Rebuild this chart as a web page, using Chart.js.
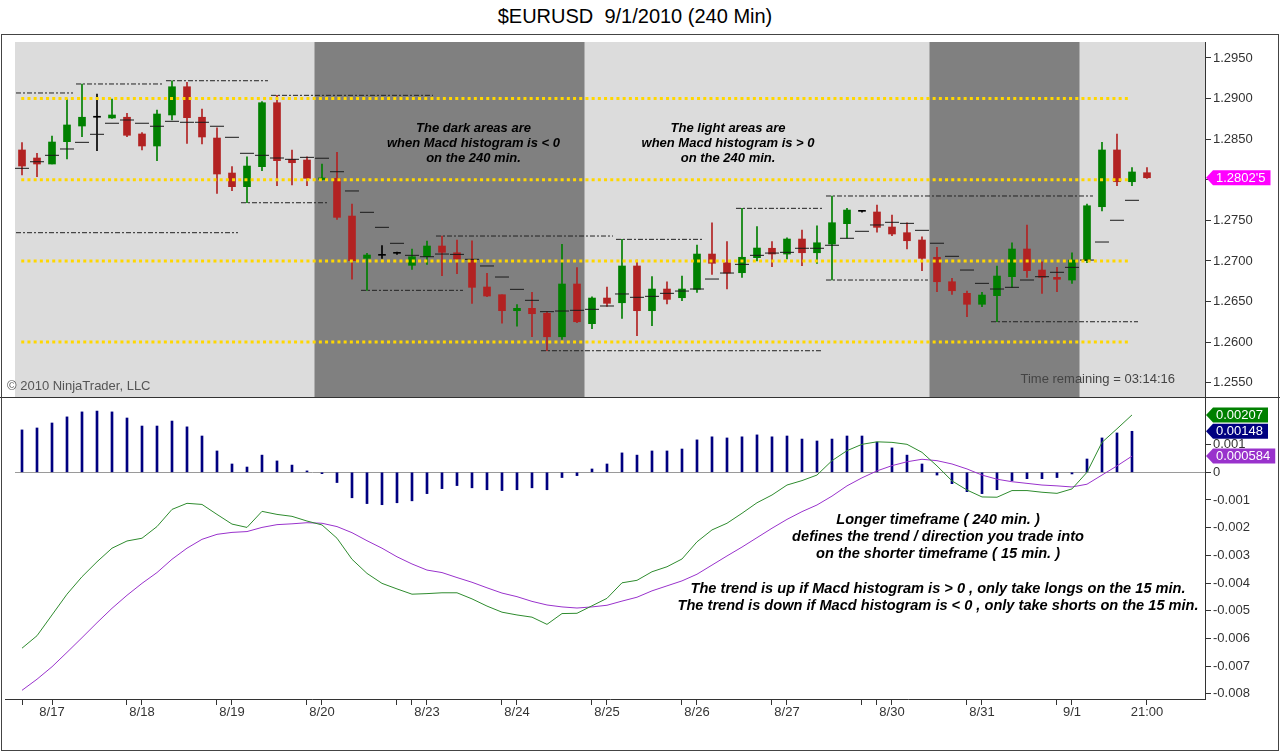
<!DOCTYPE html>
<html>
<head>
<meta charset="utf-8">
<title>$EURUSD 9/1/2010 (240 Min)</title>
<script src="https://cdn.jsdelivr.net/npm/chart.js@4.4.0/dist/chart.umd.min.js"></script>
<style>
  body { margin: 0; background: #fff; font-family: Arial, "Liberation Sans", sans-serif; }
  #page { position: relative; width: 1280px; height: 751px; overflow: hidden; }
  #title { position: absolute; left: 0; top: 5px; width: 1270px; text-align: center;
           font-size: 20px; line-height: 23px; color: #000; white-space: pre; }
  #frame { position: absolute; left: 1px; top: 34px; width: 1278px; height: 717px;
           box-sizing: border-box; border: 1px solid #444; pointer-events: none; z-index: 5; }
  #split { position: absolute; left: 0; top: 397px; width: 1280px; height: 1px; background: #333; z-index: 5; }
  #priceBox { position: absolute; left: 0; top: 35px; width: 1280px; height: 362px; }
  #macdBox { position: absolute; left: 0; top: 397px; width: 1280px; height: 354px; }
</style>
</head>
<body>
<div id="page">
  <div id="title">$EURUSD  9/1/2010 (240 Min)</div>
  <div id="priceBox"><canvas id="priceChart"></canvas></div>
  <div id="macdBox"><canvas id="macdChart"></canvas></div>
  <div id="split"></div>
  <div id="frame"></div>
</div>
<script>
// 240 min candles, 8/17 -> 9/1 (index = bar number)
const opens = [1.28367, 1.28268, 1.28194, 1.28469, 1.28662, 1.2877, 1.28761, 1.2877, 1.28564, 1.28416,
  1.28798, 1.29146, 1.2877, 1.28514, 1.28083, 1.27915, 1.28161, 1.28949, 1.28252, 1.28243,
  1.28003, 1.28018, 1.27553, 1.27032, 1.27069, 1.27094, 1.26946, 1.27052, 1.27184, 1.27101,
  1.2702, 1.26679, 1.26584, 1.26387, 1.26416, 1.26355, 1.26066, 1.26716, 1.26227, 1.26543,
  1.26485, 1.26938, 1.26387, 1.26654, 1.26547, 1.2665, 1.27085, 1.26978, 1.26855, 1.2704,
  1.27156, 1.27085, 1.2727, 1.27101, 1.27208, 1.27459, 1.27611, 1.27603, 1.27418, 1.27348,
  1.27258, 1.27045, 1.26744, 1.26601, 1.26466, 1.26572, 1.26806, 1.27147, 1.26888, 1.26798,
  1.26765, 1.27003, 1.27668, 1.28367, 1.27976, 1.28087];
const highs = [1.28457, 1.28326, 1.28539, 1.28995, 1.2918, 1.29057, 1.28995, 1.28819, 1.2858, 1.28859,
  1.2922, 1.29201, 1.28872, 1.28641, 1.28161, 1.28284, 1.28962, 1.2904, 1.28367, 1.28284,
  1.28194, 1.28338, 1.27701, 1.27094, 1.27188, 1.2711, 1.27147, 1.27245, 1.27307, 1.27258,
  1.27249, 1.26848, 1.26584, 1.26461, 1.26613, 1.26375, 1.27205, 1.26917, 1.26559, 1.26679,
  1.27266, 1.27011, 1.26806, 1.26744, 1.26814, 1.27196, 1.27471, 1.27237, 1.27648, 1.27422,
  1.27237, 1.27286, 1.27381, 1.27434, 1.278, 1.27648, 1.2762, 1.27689, 1.27566, 1.27471,
  1.27298, 1.27168, 1.26786, 1.26629, 1.26613, 1.26938, 1.27224, 1.27443, 1.2699, 1.26921,
  1.27101, 1.27701, 1.28461, 1.28564, 1.28149, 1.28149];
const lows = [1.28059, 1.28038, 1.28194, 1.28256, 1.2853, 1.28358, 1.28757, 1.2853, 1.28367, 1.28235,
  1.28736, 1.28449, 1.28441, 1.27833, 1.27865, 1.27717, 1.28112, 1.27927, 1.27935, 1.27927,
  1.27997, 1.27513, 1.26777, 1.26638, 1.27032, 1.27079, 1.26897, 1.26958, 1.26818, 1.26843,
  1.26478, 1.26559, 1.26232, 1.26198, 1.26066, 1.25894, 1.26034, 1.26239, 1.26165, 1.26441,
  1.26293, 1.26079, 1.26202, 1.2647, 1.2651, 1.26613, 1.26835, 1.26654, 1.26798, 1.26999,
  1.26929, 1.27024, 1.26941, 1.26971, 1.26765, 1.27279, 1.276, 1.27353, 1.27311, 1.27147,
  1.2688, 1.26621, 1.26589, 1.26313, 1.26436, 1.26251, 1.26675, 1.26798, 1.26601, 1.26621,
  1.26724, 1.26978, 1.27615, 1.27927, 1.27927, 1.28018];
const closes = [1.28169, 1.28194, 1.28465, 1.28675, 1.2877, 1.2877, 1.28798, 1.28548, 1.28416, 1.2881,
  1.29146, 1.28765, 1.28527, 1.28071, 1.27915, 1.28169, 1.28949, 1.28235, 1.2821, 1.28018,
  1.28022, 1.27537, 1.27003, 1.27073, 1.27069, 1.27094, 1.27052, 1.27184, 1.27106, 1.27024,
  1.26675, 1.26568, 1.26387, 1.26416, 1.2635, 1.26066, 1.26716, 1.26251, 1.26543, 1.26478,
  1.26938, 1.26387, 1.26654, 1.26527, 1.26654, 1.27085, 1.26971, 1.26851, 1.27045, 1.27159,
  1.27085, 1.2727, 1.27101, 1.27224, 1.27471, 1.27627, 1.27611, 1.27414, 1.27332, 1.27249,
  1.27032, 1.26744, 1.26633, 1.26466, 1.2658, 1.26814, 1.27147, 1.2688, 1.26798, 1.26774,
  1.27011, 1.2768, 1.28367, 1.27976, 1.28096, 1.28025];

// short dash marker drawn on every closed bar
const dashValues = [1.28141, 1.28222, 1.28301, 1.28379, 1.28461, 1.2856, 1.28696, 1.28736, 1.28696, 1.28659,
  1.2872, 1.28708, 1.28708, 1.28659, 1.28523, 1.28326, 1.28301, 1.28268, 1.28252, 1.28276,
  1.28265, 1.28099, 1.27862, 1.27599, 1.27414, 1.27217, 1.27069, 1.27052, 1.27085, 1.27081,
  1.2702, 1.26938, 1.26802, 1.2665, 1.26515, 1.26375, 1.26383, 1.26392, 1.26404, 1.26445,
  1.26593, 1.26552, 1.26564, 1.26601, 1.26629, 1.26654, 1.26777, 1.26851, 1.26958, 1.27069,
  1.27097, 1.27106, 1.27156, 1.27156, 1.27193, 1.27279, 1.27365, 1.27443, 1.27476, 1.27463,
  1.27377, 1.27218, 1.27057, 1.26888, 1.26724, 1.26654, 1.26675, 1.26765, 1.26806, 1.2686,
  1.26921, 1.27011, 1.27233, 1.27501, 1.27747];

// swing high / low lines (bar index from..to)
const levelFrom = [-0.4, 3.6, 9.6, 16.6, 14.6, -0.4, 22.6, 27.6, 34.6, 39.6, 47.6, 53.6, 53.6, 64.6];
const levelTo = [3.4, 9.4, 16.4, 27.4, 20.4, 14.4, 29.4, 39.4, 53.4, 45.4, 53.4, 71.4, 60.4, 74.4];
const levelPrice = [1.29069, 1.2918, 1.2922, 1.2904, 1.27717, 1.27348, 1.26638, 1.27307, 1.25894,
  1.27266, 1.27648, 1.278, 1.26765, 1.26251];

// round number lines
const roundLevels = [1.29, 1.28, 1.27, 1.26];
const roundFrom = -0.05;
const roundTo = 73.9;

// MACD histogram < 0 zones
const darkFrom = [19.5, 60.5];
const darkTo = [37.5, 70.5];

// MACD (not plotted on the open bar)
const macdLine = [-0.00635, -0.0059, -0.00515, -0.0044, -0.00377, -0.00323, -0.00274, -0.00248, -0.00238, -0.00196,
  -0.00134, -0.00112, -0.00116, -0.00152, -0.00187, -0.00199, -0.00141, -0.00152, -0.00159, -0.00176,
  -0.0019, -0.00238, -0.00314, -0.00365, -0.00401, -0.00421, -0.0044, -0.00438, -0.00435, -0.00435,
  -0.00457, -0.00483, -0.00505, -0.00515, -0.00523, -0.00549, -0.0051, -0.00509, -0.00482, -0.00455,
  -0.00399, -0.0039, -0.00359, -0.00341, -0.00313, -0.00251, -0.00208, -0.00184, -0.00148, -0.0011,
  -0.00082, -0.00046, -0.0003, -0.0001, 0.00042, 0.00078, 0.00101, 0.0011, 0.00108, 0.00101,
  0.00072, 0.00023, -0.00031, -0.00064, -0.00089, -0.0009, -0.00066, -0.00066, -0.00072, -0.00076,
  -0.0006, 0, 0.00108, 0.00157, 0.00207];
const signalLine = [-0.00787, -0.00747, -0.00702, -0.0065, -0.00597, -0.00543, -0.00491, -0.00444, -0.00401, -0.00362,
  -0.00314, -0.00274, -0.00242, -0.00224, -0.00217, -0.00214, -0.00199, -0.00189, -0.00186, -0.00182,
  -0.00184, -0.00196, -0.00218, -0.00247, -0.00274, -0.00305, -0.00331, -0.00353, -0.00362, -0.0038,
  -0.00397, -0.00417, -0.00436, -0.00449, -0.00466, -0.00479, -0.00486, -0.0049, -0.00486, -0.0048,
  -0.00465, -0.00451, -0.00428, -0.0041, -0.00392, -0.00368, -0.00335, -0.00302, -0.0027, -0.00236,
  -0.00202, -0.0017, -0.00142, -0.00118, -0.00086, -0.00049, -0.0002, 0.00005, 0.00024, 0.00038,
  0.00047, 0.00042, 0.0003, 0.00012, -0.0001, -0.00025, -0.00034, -0.0004, -0.00046, -0.00049,
  -0.00053, -0.00043, -0.0001, 0.00023, 0.000584];
const histogram = [0.00153, 0.0016, 0.00178, 0.002, 0.00218, 0.00221, 0.00218, 0.00196, 0.00167, 0.00167,
  0.00185, 0.00164, 0.00131, 0.00077, 0.0003, 0.00019, 0.00062, 0.00041, 0.00026, 0.00005,
  -0.00005, -0.00037, -0.00092, -0.00113, -0.00117, -0.0011, -0.00103, -0.00077, -0.00059, -0.00048,
  -0.00056, -0.00063, -0.00066, -0.00063, -0.00056, -0.00063, -0.00019, -0.00012, 0.00012, 0.0003,
  0.0007, 0.00062, 0.00077, 0.00077, 0.00084, 0.00117, 0.00128, 0.00124, 0.00128, 0.00135,
  0.00128, 0.00131, 0.0012, 0.00113, 0.0012, 0.00131, 0.00131, 0.00109, 0.00088, 0.00062,
  0.0003, -0.0001, -0.00041, -0.0007, -0.00077, -0.00063, -0.0003, -0.00023, -0.00023, -0.00019,
  -0.00006, 0.00048, 0.00124, 0.00142, 0.00148];

// axes
const priceTicks = [1.255, 1.26, 1.265, 1.27, 1.275, 1.28, 1.285, 1.29, 1.295];
const macdTicks = [0.001, 0, -0.001, -0.002, -0.003, -0.004, -0.005, -0.006, -0.007, -0.008];
const dayTickIdx = [2, 8, 14, 20, 27, 33, 39, 45, 51, 58, 64, 70, 75];
const dayTickText = ['8/17', '8/18', '8/19', '8/20', '8/23', '8/24', '8/25', '8/26', '8/27', '8/30', '8/31', '9/1', '21:00'];
const minorTickIdx = [0, 7, 13, 19, 25, 26, 32, 38, 44, 50, 56, 57, 63, 69];

// notes
const priceNoteX = [30.1, 47.07];
const priceNoteY = [1.28638, 1.28638];
const priceNoteLines = [
  ['The dark areas are', 'when Macd histogram is < 0', 'on the 240 min.'],
  ['The light areas are', 'when Macd histogram is > 0', 'on the 240 min.']
];
const macdNoteX = [61.07, 61.07];
const macdNoteY = [-0.00172, -0.00421];
const macdNoteLines = [
  ['Longer timeframe ( 240 min. )', 'defines the trend / direction you trade into', 'on the shorter timeframe ( 15 min. )'],
  ['The trend is up if Macd histogram is > 0 , only take longs on the 15 min.',
   'The trend is down if Macd histogram is < 0 , only take shorts on the 15 min.']
];

const X_MIN = -0.4667, X_MAX = 78.867;
const RED = '#B22222', GREEN = '#008000';
const FONT = 'Arial, "Liberation Sans", sans-serif';

Chart.defaults.font.family = FONT;
Chart.defaults.font.size = 13;
Chart.defaults.color = '#333';

function candleColor(i) {
  if (closes[i] > opens[i]) return GREEN;
  if (closes[i] < opens[i]) return RED;
  return '#000';
}

function fitRight(s) {
  s.width = 75;
  s.paddingTop = 0;
  s.paddingBottom = 0;
}

function drawTag(ctx, x0, yc, fill, text) {
  ctx.font = '13px ' + FONT;
  const w = ctx.measureText(text).width + 15;
  const h = 15;
  ctx.beginPath();
  ctx.moveTo(x0, yc);
  ctx.lineTo(x0 + 7, yc - h / 2);
  ctx.lineTo(x0 + w, yc - h / 2);
  ctx.lineTo(x0 + w, yc + h / 2);
  ctx.lineTo(x0 + 7, yc + h / 2);
  ctx.closePath();
  ctx.fillStyle = fill;
  ctx.fill();
  ctx.fillStyle = '#fff';
  ctx.textAlign = 'left';
  ctx.textBaseline = 'middle';
  ctx.fillText(text, x0 + 10, yc + 0.5);
}

function notesPlugin(id, xs, ys, lines, fontSize, lineHeight) {
  return {
    id: id,
    afterDatasetsDraw(chart) {
      const {ctx, scales: {x, y}} = chart;
      ctx.save();
      ctx.font = 'italic bold ' + fontSize + 'px ' + FONT;
      ctx.fillStyle = '#000';
      ctx.textAlign = 'center';
      ctx.textBaseline = 'middle';
      xs.forEach((nx, k) => {
        const px = x.getPixelForValue(nx), py = y.getPixelForValue(ys[k]);
        lines[k].forEach((t, i) => ctx.fillText(t, px, py + i * lineHeight));
      });
      ctx.restore();
    }
  };
}

const shadePlugin = {
  id: 'shade',
  beforeDatasetsDraw(chart) {
    const {ctx, chartArea: a, scales: {x}} = chart;
    ctx.save();
    ctx.fillStyle = '#DCDCDC';
    ctx.fillRect(a.left, a.top, a.right - a.left, a.bottom - a.top);
    ctx.fillStyle = '#808080';
    darkFrom.forEach((f, k) => {
      const x0 = x.getPixelForValue(f), x1 = x.getPixelForValue(darkTo[k]);
      ctx.fillRect(x0, a.top, x1 - x0, a.bottom - a.top);
    });
    ctx.restore();
  },
  afterDatasetsDraw(chart) {
    const {ctx, chartArea: a} = chart;
    ctx.save();
    ctx.font = '13px ' + FONT;
    ctx.textBaseline = 'middle';
    ctx.fillStyle = '#555';
    ctx.textAlign = 'left';
    ctx.fillText('\u00A9 2010 NinjaTrader, LLC', 7, a.bottom - 11);
    ctx.fillStyle = '#444';
    ctx.textAlign = 'right';
    ctx.fillText('Time remaining = 03:14:16', a.right - 30, a.bottom - 18);
    ctx.restore();
  }
};

const lastPricePlugin = {
  id: 'lastPrice',
  afterDraw(chart) {
    const {ctx, chartArea: a, scales: {y}} = chart;
    const last = closes[closes.length - 1];
    const s = last.toFixed(5);
    const text = s.slice(0, -1) + "'" + s.slice(-1);
    ctx.save();
    drawTag(ctx, a.right + 1, y.getPixelForValue(last), '#FF00FF', text);
    ctx.restore();
  }
};

const macdTagPlugin = {
  id: 'macdTags',
  afterDraw(chart) {
    const {ctx, chartArea: a, scales: {y}} = chart;
    const n = macdLine.length - 1;
    ctx.save();
    // time axis line runs a little past the plot on the left
    ctx.strokeStyle = '#333';
    ctx.lineWidth = 1;
    ctx.beginPath();
    ctx.moveTo(5, Math.round(a.bottom) + 0.5);
    ctx.lineTo(a.left, Math.round(a.bottom) + 0.5);
    ctx.stroke();
    drawTag(ctx, a.right + 1, y.getPixelForValue(macdLine[n]), GREEN, macdLine[n].toFixed(5));
    drawTag(ctx, a.right + 1, y.getPixelForValue(histogram[n]), '#000080', histogram[n].toFixed(5));
    drawTag(ctx, a.right + 1, y.getPixelForValue(signalLine[n]), '#9932CC', signalLine[n].toFixed(6));
    ctx.restore();
  }
};

// ---- price panel ----
const priceDatasets = [];
levelPrice.forEach((p, k) => {
  priceDatasets.push({
    type: 'line',
    data: [{x: levelFrom[k], y: p}, {x: levelTo[k], y: p}],
    borderColor: '#222',
    borderWidth: 1,
    borderDash: [5, 2, 2, 2],
    pointRadius: 0,
    order: 6
  });
});
priceDatasets.push({
  type: 'bar',
  data: highs.map((h, i) => ({x: i, y: [lows[i], h]})),
  backgroundColor: highs.map((h, i) => candleColor(i)),
  barThickness: 1,
  grouped: false,
  order: 5
});
priceDatasets.push({
  type: 'bar',
  data: opens.map((o, i) => ({x: i, y: [o, closes[i]]})),
  backgroundColor: opens.map((o, i) => candleColor(i)),
  barThickness: 7,
  minBarLength: 1,
  grouped: false,
  order: 4
});
priceDatasets.push({
  type: 'line',
  data: dashValues.map((v, i) => ({x: i, y: v})),
  showLine: false,
  pointStyle: 'line',
  pointRadius: 7,
  pointHoverRadius: 7,
  pointBorderWidth: 1,
  pointBorderColor: '#1a1a1a',
  order: 3
});
roundLevels.forEach(p => {
  priceDatasets.push({
    type: 'line',
    data: [{x: roundFrom, y: p}, {x: roundTo, y: p}],
    borderColor: '#FFD700',
    borderWidth: 3,
    borderDash: [3, 3.2],
    pointRadius: 0,
    order: 2
  });
});

new Chart(document.getElementById('priceChart'), {
  type: 'bar',
  data: {datasets: priceDatasets},
  options: {
    responsive: true,
    maintainAspectRatio: false,
    devicePixelRatio: 1,
    animation: false,
    events: [],
    layout: {padding: {left: 15, right: 0, top: 7, bottom: 0}, autoPadding: false},
    plugins: {legend: {display: false}, tooltip: {enabled: false}},
    scales: {
      x: {
        type: 'linear',
        min: X_MIN,
        max: X_MAX,
        offset: false,
        display: false,
        grid: {offset: false}
      },
      y: {
        position: 'right',
        min: 1.25324,
        max: 1.29697,
        beginAtZero: false,
        afterBuildTicks: s => { s.ticks = priceTicks.map(v => ({value: v})); },
        afterFit: fitRight,
        ticks: {
          padding: 2,
          color: '#333',
          font: {size: 13},
          callback: v => v.toFixed(4)
        },
        grid: {drawOnChartArea: false, tickLength: 6, color: '#333'},
        border: {display: true, color: '#333'}
      }
    }
  },
  plugins: [shadePlugin, notesPlugin('priceNotes', priceNoteX, priceNoteY, priceNoteLines, 13, 15), lastPricePlugin]
});

// ---- MACD panel ----
new Chart(document.getElementById('macdChart'), {
  type: 'bar',
  data: {
    datasets: [
      {
        type: 'line',
        data: macdLine.map((v, i) => ({x: i, y: v})),
        borderColor: '#2E8B2E',
        borderWidth: 1,
        pointRadius: 0,
        tension: 0,
        order: 1
      },
      {
        type: 'line',
        data: signalLine.map((v, i) => ({x: i, y: v})),
        borderColor: '#9932CC',
        borderWidth: 1,
        pointRadius: 0,
        tension: 0,
        order: 2
      },
      {
        type: 'bar',
        data: histogram.map((v, i) => ({x: i, y: v})),
        backgroundColor: '#000080',
        barThickness: 2,
        grouped: false,
        order: 3
      }
    ]
  },
  options: {
    responsive: true,
    maintainAspectRatio: false,
    devicePixelRatio: 1,
    animation: false,
    events: [],
    layout: {padding: {left: 15, right: 0, top: 0, bottom: 22}, autoPadding: false},
    plugins: {legend: {display: false}, tooltip: {enabled: false}},
    scales: {
      x: {
        type: 'linear',
        min: X_MIN,
        max: X_MAX,
        offset: false,
        afterBuildTicks: s => {
          s.ticks = dayTickIdx.concat(minorTickIdx).sort((a, b) => a - b).map(v => ({value: v}));
        },
        afterFit: s => { s.height = 30; s.paddingLeft = 0; s.paddingRight = 0; },
        ticks: {
          autoSkip: false,
          maxRotation: 0,
          padding: 0,
          color: '#333',
          font: {size: 13},
          callback: v => {
            const k = dayTickIdx.indexOf(v);
            return k >= 0 ? dayTickText[k] : '';
          }
        },
        grid: {drawOnChartArea: false, offset: false, tickLength: 6, color: '#333'},
        border: {display: true, color: '#333'}
      },
      y: {
        position: 'right',
        min: -0.008184,
        max: 0.002718,
        beginAtZero: false,
        afterBuildTicks: s => { s.ticks = macdTicks.map(v => ({value: v})); },
        afterFit: fitRight,
        ticks: {
          padding: 2,
          color: '#333',
          font: {size: 13},
          callback: v => (v === 0 ? '0' : v.toFixed(3))
        },
        grid: {
          drawOnChartArea: true,
          tickLength: 6,
          tickColor: '#333',
          color: c => (c.tick && c.tick.value === 0 ? '#9a9a9a' : 'rgba(0,0,0,0)')
        },
        border: {display: true, color: '#333'}
      }
    }
  },
  plugins: [notesPlugin('macdNotes', macdNoteX, macdNoteY, macdNoteLines, 14.6, 17), macdTagPlugin]
});
</script>
</body>
</html>
